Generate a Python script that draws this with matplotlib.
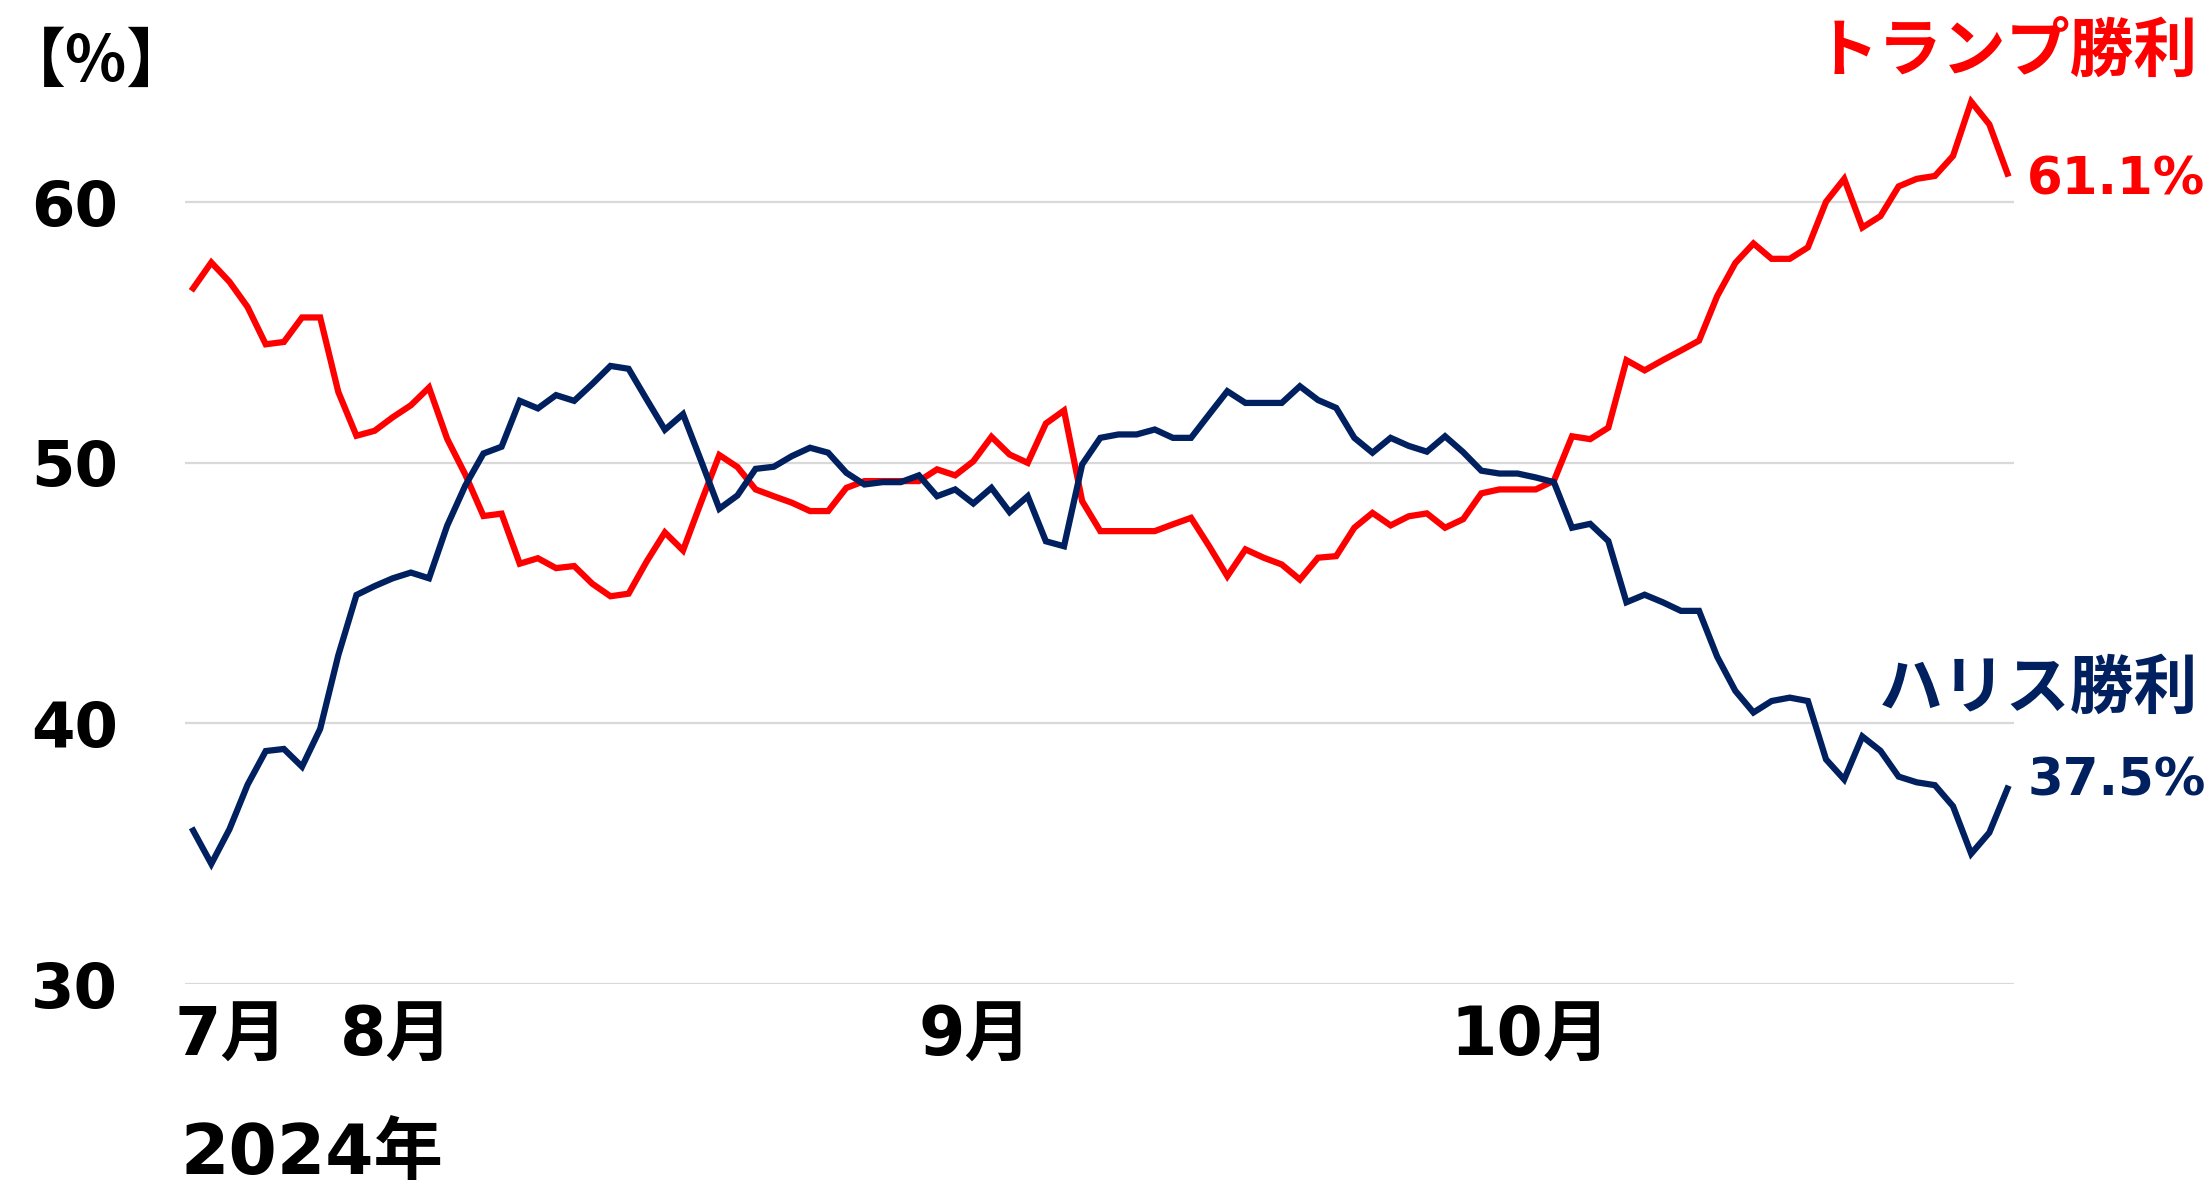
import matplotlib
matplotlib.use("Agg")
import matplotlib.pyplot as plt

plt.rcParams['font.family'] = ['DejaVu Sans', 'Noto Sans CJK JP']

# Daily win probability (%), late July to late October 2024
trump = [56.70, 57.69, 56.95, 55.98, 54.55, 54.64, 55.58, 55.58, 52.72, 51.04,
         51.23, 51.75, 52.21, 52.89, 50.92, 49.55, 47.96, 48.05, 46.13, 46.34,
         45.96, 46.04, 45.36, 44.88, 44.98, 46.22, 47.33, 46.64, 48.50, 50.30,
         49.84, 48.98, 48.72, 48.47, 48.15, 48.15, 49.04, 49.30, 49.30, 49.30,
         49.30, 49.75, 49.52, 50.06, 51.00, 50.32, 50.00, 51.51, 52.01, 48.53,
         47.38, 47.38, 47.38, 47.38, 47.64, 47.89, 46.80, 45.65, 46.68, 46.36,
         46.10, 45.52, 46.36, 46.42, 47.51, 48.08, 47.60, 47.95, 48.06, 47.51,
         47.84, 48.83, 48.98, 48.98, 48.98, 49.31, 51.02, 50.91, 51.35, 53.94,
         53.55, 53.94, 54.31, 54.69, 56.40, 57.67, 58.42, 57.83, 57.83, 58.27,
         60.02, 60.90, 59.03, 59.47, 60.61, 60.90, 61.01, 61.78, 63.86, 62.99,
         61.10]

harris = [35.89, 34.61, 35.94, 37.65, 38.94, 39.02, 38.34, 39.79, 42.62, 44.93,
          45.27, 45.57, 45.79, 45.57, 47.59, 49.13, 50.36, 50.62, 52.38, 52.09,
          52.60, 52.38, 53.03, 53.72, 53.61, 52.43, 51.27, 51.87, 50.07, 48.24,
          48.75, 49.77, 49.85, 50.26, 50.58, 50.39, 49.62, 49.17, 49.26, 49.26,
          49.52, 48.72, 48.98, 48.44, 49.04, 48.11, 48.72, 46.99, 46.80, 49.94,
          50.96, 51.09, 51.09, 51.28, 50.96, 50.96, 51.86, 52.75, 52.30, 52.30,
          52.30, 52.94, 52.41, 52.11, 50.96, 50.39, 50.96, 50.65, 50.43, 51.02,
          50.41, 49.70, 49.59, 49.59, 49.44, 49.26, 47.51, 47.66, 47.00, 44.65,
          44.94, 44.65, 44.32, 44.32, 42.56, 41.25, 40.42, 40.86, 40.99, 40.86,
          38.62, 37.85, 39.50, 38.95, 37.96, 37.74, 37.63, 36.82, 35.00, 35.81,
          37.50]

month_labels = ['7月', '8月', '9月', '10月']
month_pos = [2.1, 11.2, 43.1, 73.7]
y_ticks = [30, 40, 50, 60]

RED = '#FF0000'
NAVY = '#002060'

W, H = 2209, 1187
fig = plt.figure(figsize=(W / 100, H / 100), dpi=100)

# axes placed in pixel terms
left_px, right_px = 185, 2014
top_px, bottom_px = 72, 984
ax = fig.add_axes([left_px / W, 1 - bottom_px / H,
                   (right_px - left_px) / W, (bottom_px - top_px) / H])

x = list(range(len(trump)))
ax.plot(x, trump, color=RED, lw=4.5, solid_joinstyle='miter', zorder=3)
ax.plot(x, harris, color=NAVY, lw=4.5, solid_joinstyle='miter', zorder=3)

ax.set_xlim(-0.45, len(trump) - 1 + 0.36)
ax.set_ylim(30, 65)

for s in ax.spines.values():
    s.set_visible(False)

ax.set_yticks(y_ticks)
ax.set_yticklabels([str(v) for v in y_ticks], fontsize=45, fontweight='bold')
ax.yaxis.grid(True, color='#D9D9D9', lw=1.6)
ax.set_axisbelow(True)
ax.tick_params(axis='y', length=0, pad=48)

ax.set_xticks(month_pos)
ax.set_xticklabels(month_labels, fontsize=48, fontweight='bold')
ax.tick_params(axis='x', length=0, pad=14)


def fx(px):
    return px / W


def fy(py):
    return 1 - py / H


fig.text(fx(180), fy(1154), '2024年', fontsize=50, fontweight='bold',
         ha='left', va='center')
fig.text(fx(2), fy(62), '【%】', fontsize=46, fontweight='bold',
         family=['Noto Sans CJK JP'], ha='left', va='center')

fig.text(fx(2198), fy(53), 'トランプ勝利', fontsize=46, fontweight='bold',
         family=['Noto Sans CJK JP'], color=RED, ha='right', va='center')
fig.text(fx(2027), fy(180), f'{trump[-1]:.1f}%', fontsize=37, fontweight='bold',
         color=RED, ha='left', va='center')
fig.text(fx(2198), fy(689), 'ハリス勝利', fontsize=46, fontweight='bold',
         family=['Noto Sans CJK JP'], color=NAVY, ha='right', va='center')
fig.text(fx(2028), fy(782), f'{harris[-1]:.1f}%', fontsize=37, fontweight='bold',
         color=NAVY, ha='left', va='center')

fig.savefig('out.png', dpi=100, facecolor='white')
